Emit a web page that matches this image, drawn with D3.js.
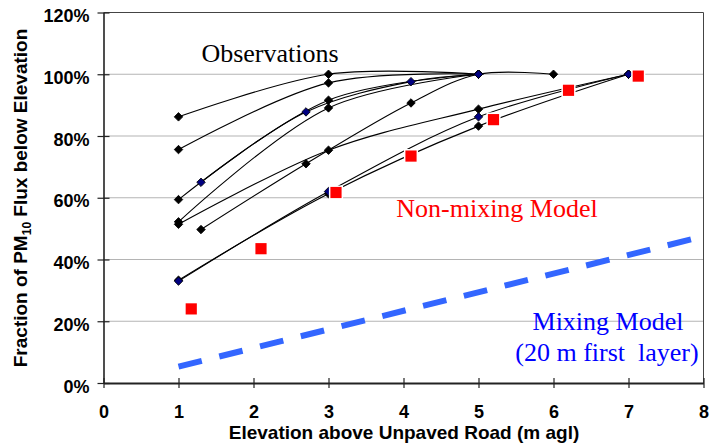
<!DOCTYPE html>
<html>
<head>
<meta charset="utf-8">
<script src="https://d3js.org/d3.v7.min.js"></script>
<style>
body { margin: 0; background: #fff; }
.axis text { font-family: "Liberation Sans", Arial, sans-serif; font-weight: bold; font-size: 18px; fill: #000; }
.axis path, .axis line { stroke: #222; }
.note { font-family: "Liberation Serif", "Times New Roman", serif; font-size: 26px; }
.title { font-family: "Liberation Sans", Arial, sans-serif; font-weight: bold; font-size: 19px; }
</style>
</head>
<body>
<svg id="chart" width="723" height="445"></svg>
<script>
// observed profiles: [height (m agl), fraction of PM10 flux below (%)]
var obsA = [[1, 86.2], [3, 100], [5, 100]];
var obsB = [[1, 75.6], [3, 97.2], [5, 100]];
var obsC = [[1, 59.4], [3, 91.6], [5, 100]];
var obsD = [[1, 52.2], [3, 89.1], [5, 100]];
var obsE = [[1, 51.4], [3, 75.4], [5, 88.7], [7, 100]];
var obsF = [[1.3, 65], [2.7, 87.8], [4.1, 97.6], [5, 100]];
var obsG = [[1.3, 49.7], [2.7, 71], [4.1, 90.7], [5, 100], [6, 100]];
var obsH = [[1, 33], [3, 62], [5, 86.2], [7, 100]];
var obsI = [[1, 33.3], [3, 61.3], [5, 83.2], [7, 100]];

// non-mixing model
var nonMixHeights = [1.17, 2.1, 3.1, 4.1, 5.2, 6.2, 7.13];
var nonMixValues = [24, 43.5, 61.7, 73.5, 85.3, 94.8, 99.4];

// mixing model (20 m first layer)
var mixHeights = [1, 8];
var mixValues = [5.3, 47.5];

var xTicks = [0, 1, 2, 3, 4, 5, 6, 7, 8];
var yTicks = [0, 20, 40, 60, 80, 100, 120];

var profiles = [
  {pts: obsA, marker: "#000"},
  {pts: obsB, marker: "#000"},
  {pts: obsC, marker: "#000"},
  {pts: obsD, marker: "#000"},
  {pts: obsE, marker: "#000"},
  {pts: obsG, marker: "#000"},
  {pts: obsI, marker: "#000"},
  {pts: obsF, marker: "#000080"},
  {pts: obsH, marker: "#000080"}
];

var svg = d3.select("#chart");
svg.append("rect").attr("width", 723).attr("height", 445).attr("fill", "#fff");

var x = d3.scaleLinear().domain([0, 8]).range([103.5, 703.5]);
var y = d3.scaleLinear().domain([0, 120]).range([383, 12.5]);

// gridlines
svg.append("g").selectAll("line")
  .data(yTicks.filter(function(d) { return d > 0 && d < 120; }))
  .enter().append("line")
  .attr("x1", x(0)).attr("x2", x(8))
  .attr("y1", function(d) { return y(d); }).attr("y2", function(d) { return y(d); })
  .attr("stroke", "#b4b4b4").attr("stroke-width", 1.2);

// frame top and right
svg.append("path")
  .attr("d", "M" + x(0) + "," + y(120) + "H" + x(8) + "V" + y(0))
  .attr("fill", "none").attr("stroke", "#444").attr("stroke-width", 1);

// observation curves
var line = d3.line()
  .x(function(d) { return x(d[0]); })
  .y(function(d) { return y(d[1]); })
  .curve(d3.curveCatmullRom.alpha(0.5));

svg.append("g").selectAll("path")
  .data(profiles)
  .enter().append("path")
  .attr("d", function(p) { return line(p.pts); })
  .attr("fill", "none").attr("stroke", "#000").attr("stroke-width", 1.1);

var diamond = d3.symbol().type(d3.symbolSquare).size(36);
profiles.forEach(function(p) {
  svg.append("g").selectAll("path")
    .data(p.pts)
    .enter().append("path")
    .attr("d", diamond)
    .attr("transform", function(d) { return "translate(" + x(d[0]) + "," + y(d[1]) + ") rotate(45)"; })
    .attr("fill", p.marker).attr("stroke", "#000").attr("stroke-width", 0.8);
});

// non-mixing model squares
var square = d3.symbol().type(d3.symbolSquare).size(125);
svg.append("g").selectAll("path")
  .data(nonMixHeights)
  .enter().append("path")
  .attr("d", square)
  .attr("transform", function(d, i) { return "translate(" + x(d) + "," + y(nonMixValues[i]) + ")"; })
  .attr("fill", "#ff0000").attr("stroke", "#fff").attr("stroke-width", 3)
  .style("paint-order", "stroke");

// mixing model dashed line
svg.append("path")
  .datum(mixHeights.map(function(h, i) { return [h, mixValues[i]]; }))
  .attr("d", d3.line().x(function(d) { return x(d[0]); }).y(function(d) { return y(d[1]); }))
  .attr("fill", "none").attr("stroke", "#3366ff").attr("stroke-width", 6)
  .attr("stroke-dasharray", "24,18");

// axes
var xAxis = svg.append("g").attr("class", "axis")
  .attr("transform", "translate(0," + y(0) + ")")
  .call(d3.axisBottom(x).tickValues(xTicks).tickSizeOuter(0).tickFormat(d3.format("d")));
xAxis.select(".domain").attr("stroke-width", 2);
xAxis.selectAll(".tick line").attr("y1", -5).attr("y2", 5).attr("stroke-width", 1.2);
xAxis.selectAll(".tick text").attr("y", 34.5).attr("dy", 0);

var yAxis = svg.append("g").attr("class", "axis")
  .attr("transform", "translate(" + x(0) + ",0)")
  .call(d3.axisLeft(y).tickValues(yTicks).tickSizeOuter(0).tickFormat(function(d) { return d + "%"; }));
yAxis.select(".domain").attr("stroke-width", 1.6);
yAxis.selectAll(".tick line").attr("x1", -6).attr("x2", 6).attr("stroke-width", 1.2);
yAxis.selectAll(".tick text").attr("x", -14).attr("y", 9).attr("dy", 0);

// axis titles
svg.append("text").attr("class", "title")
  .attr("x", 404).attr("y", 439).attr("text-anchor", "middle")
  .text("Elevation above Unpaved Road (m agl)");

var yt = svg.append("text").attr("class", "title")
  .attr("transform", "translate(27,198) rotate(-90)")
  .attr("text-anchor", "middle");
yt.append("tspan").text("Fraction of PM");
yt.append("tspan").attr("font-size", "12px").attr("dy", 4).text("10");
yt.append("tspan").attr("dy", -4).text(" Flux below Elevation");

// annotations
svg.append("text").attr("class", "note").attr("x", 270).attr("y", 61.5)
  .attr("text-anchor", "middle").attr("fill", "#000").text("Observations");
svg.append("text").attr("class", "note").attr("x", 497).attr("y", 217)
  .attr("text-anchor", "middle").attr("fill", "#ff0000").text("Non-mixing Model");
svg.append("text").attr("class", "note").attr("x", 608).attr("y", 330)
  .attr("text-anchor", "middle").attr("fill", "#0000ff").text("Mixing Model");
svg.append("text").attr("class", "note").attr("x", 607).attr("y", 361)
  .attr("text-anchor", "middle").attr("fill", "#0000ff").style("white-space", "pre")
  .text("(20 m first  layer)");
</script>
</body>
</html>
